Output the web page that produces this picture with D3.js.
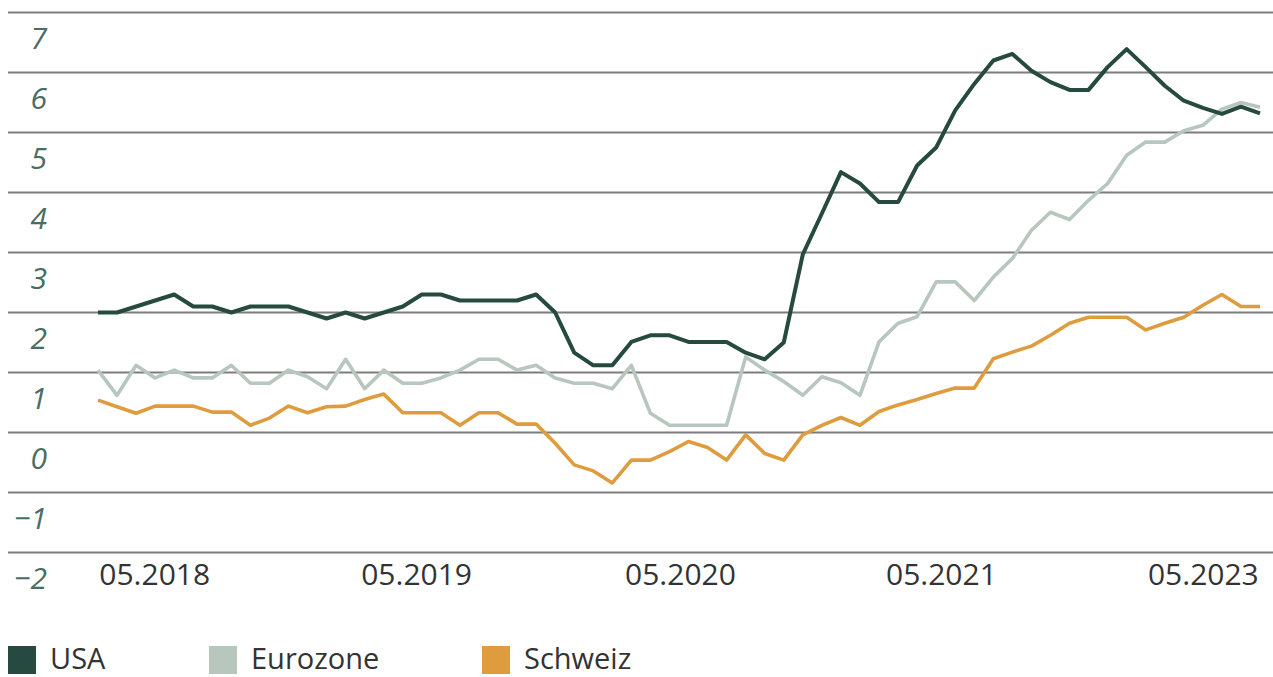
<!DOCTYPE html>
<html>
<head>
<meta charset="utf-8">
<script src="https://cdn.jsdelivr.net/npm/d3@7"></script>
<style>
body { margin: 0; background: #fff; }
text { font-family: "Open Sans", "Noto Sans", sans-serif; }
</style>
</head>
<body>
<svg id="chart"></svg>
<script>
var w = 1273;
var h = 677;

// values, one point per step
var usa = [2.0, 2.0, 2.1, 2.2, 2.3, 2.1, 2.1, 2.0, 2.1, 2.1,
    2.1, 2.0, 1.9, 2.0, 1.9, 2.0, 2.1, 2.3, 2.3, 2.2,
    2.2, 2.2, 2.2, 2.3, 2.0, 1.33, 1.12, 1.12, 1.51, 1.62,
    1.62, 1.51, 1.51, 1.51, 1.33, 1.22, 1.5, 2.97, 3.65, 4.34,
    4.15, 3.84, 3.84, 4.45, 4.75, 5.37, 5.81, 6.2, 6.31, 6.03,
    5.84, 5.71, 5.71, 6.09, 6.39, 6.09, 5.78, 5.53, 5.41, 5.31,
    5.43, 5.32];
var eurozone = [1.04, 0.62, 1.12, 0.91, 1.04, 0.91, 0.91, 1.12, 0.82, 0.82,
    1.04, 0.93, 0.73, 1.22, 0.73, 1.04, 0.82, 0.82, 0.91, 1.04,
    1.22, 1.22, 1.04, 1.12, 0.91, 0.82, 0.82, 0.73, 1.12, 0.32,
    0.12, 0.12, 0.12, 0.12, 1.26, 1.04, 0.85, 0.62, 0.93, 0.83,
    0.62, 1.51, 1.82, 1.93, 2.51, 2.51, 2.2, 2.59, 2.9, 3.37,
    3.67, 3.55, 3.87, 4.15, 4.62, 4.84, 4.84, 5.03, 5.12, 5.39,
    5.5, 5.42];
var schweiz = [0.54, 0.43, 0.32, 0.44, 0.44, 0.44, 0.34, 0.34, 0.12, 0.24,
    0.44, 0.33, 0.43, 0.44, 0.55, 0.64, 0.33, 0.33, 0.33, 0.12,
    0.33, 0.33, 0.14, 0.14, -0.18, -0.54, -0.64, -0.84, -0.46, -0.46,
    -0.32, -0.15, -0.25, -0.46, -0.04, -0.35, -0.46, -0.04, 0.12, 0.25,
    0.12, 0.35, 0.46, 0.55, 0.65, 0.74, 0.74, 1.23, 1.34, 1.44,
    1.62, 1.82, 1.92, 1.92, 1.92, 1.71, 1.82, 1.92, 2.12, 2.3,
    2.1, 2.1];

var yTicks = [-2, -1, 0, 1, 2, 3, 4, 5, 6, 7];
var xTickPos = [2.95, 16.7, 30.55, 44.25, 58];
var xTickLabels = ["05.2018", "05.2019", "05.2020", "05.2021", "05.2023"];
var seriesNames = ["USA", "Eurozone", "Schweiz"];
var seriesColors = ["#264a40", "#b8c7be", "#de9c3e"];

var svg = d3.select("#chart")
    .attr("width", w)
    .attr("height", h);

var x = d3.scaleLinear()
    .domain([0, usa.length - 1])
    .range([98, 1260]);
var y = d3.scaleLinear()
    .domain([-2, 7])
    .range([552.5, 12.5]);

//horizontal grid lines
svg.append("g")
    .selectAll("line")
    .data(yTicks)
    .enter()
    .append("line")
    .attr("x1", 8)
    .attr("x2", w)
    .attr("y1", d => y(d))
    .attr("y2", d => y(d))
    .attr("stroke", "#7d7d7d")
    .attr("stroke-width", 2);

//y labels sit below their grid line
var fmt = d3.format("d");
svg.append("g")
    .selectAll("text")
    .data(yTicks)
    .enter()
    .append("text")
    .attr("x", 47)
    .attr("y", d => y(d) + 36)
    .attr("text-anchor", "end")
    .attr("font-size", 30)
    .attr("font-style", "italic")
    .attr("font-weight", 500)
    .attr("fill", "#4a6d63")
    .text(d => fmt(d));

//x labels
var xAxis = d3.axisBottom(x)
    .tickValues(xTickPos)
    .tickSize(0)
    .tickFormat((d, i) => xTickLabels[i]);
var gx = svg.append("g")
    .attr("transform", "translate(0,552)")
    .call(xAxis);
gx.select(".domain").remove();
gx.selectAll("text")
    .attr("dy", 0)
    .attr("y", 33)
    .attr("font-size", 30)
    .attr("font-family", "'Open Sans', sans-serif")
    .attr("fill", "#333");

var line = d3.line()
    .x((d, i) => x(i))
    .y(d => y(d));

//draw eurozone first so the others lie on top
var order = [[eurozone, 1], [schweiz, 2], [usa, 0]];
order.forEach(o => {
    svg.append("path")
        .datum(o[0])
        .attr("fill", "none")
        .attr("stroke", seriesColors[o[1]])
        .attr("stroke-width", o[1] == 0 ? 4 : 3.6)
        .attr("stroke-linejoin", "round")
        .attr("d", line);
});

//legend
var legendX = [8, 209, 482];
var lg = svg.append("g")
    .selectAll("g")
    .data(seriesNames)
    .enter()
    .append("g")
    .attr("transform", (d, i) => `translate(${legendX[i]},646)`);
lg.append("rect")
    .attr("width", 28)
    .attr("height", 28)
    .attr("fill", (d, i) => seriesColors[i]);
lg.append("text")
    .attr("x", 42)
    .attr("y", 23)
    .attr("font-size", 29)
    .attr("fill", "#333")
    .text(d => d);
</script>
</body>
</html>
